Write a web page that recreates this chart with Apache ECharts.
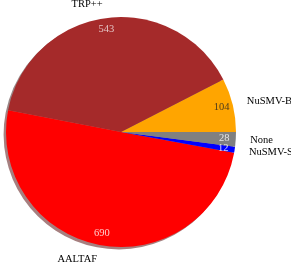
<!DOCTYPE html>
<html>
<head>
<meta charset="utf-8">
<script src="https://cdn.jsdelivr.net/npm/echarts@6/dist/echarts.min.js"></script>
<style>html,body{margin:0;padding:0;background:#fff;}#c{width:291px;height:262px;}</style>
</head>
<body>
<div id="c"></div>
<script>
var categories = ['NuSMV-B', 'TRP++', 'AALTAF', 'NuSMV-S', 'None'];
var values = [104, 543, 690, 12, 28];

var colors = ['#ffa500', '#a52a2a', '#ff0000', '#0000ff', '#808080'];
var valueLabelColors = ['#222', '#f4e8e8', '#ffffff', '#ffffff', '#ffffff'];

var CX = 121, CY = 132, R = 115;
var FONT = '"Liberation Serif", "DejaVu Serif", serif';
var FS = 10.5;

function shade(hex) {
  var r = parseInt(hex.substr(1,2),16), g = parseInt(hex.substr(3,2),16), b = parseInt(hex.substr(5,2),16);
  return 'rgba(' + Math.round(r*0.3) + ',' + Math.round(g*0.3) + ',' + Math.round(b*0.3) + ',0.5)';
}

var total = values.reduce(function(a,b){return a+b;},0);
var cum = 0;
var mids = values.map(function(v){ var m = cum + v/2; cum += v; return m; });
var leftSide = mids.map(function(m){ return Math.cos(m / total * 2 * Math.PI) < 0; });

var baseData = categories.map(function(c,i){ return {name:c, value:values[i], itemStyle:{color:colors[i]}}; });

var option = {
  animation: false,
  polar: {center: [CX, CY], radius: R},
  angleAxis: {type: 'value', min: 0, max: total, startAngle: 0, clockwise: false, show: false},
  radiusAxis: {type: 'value', min: 0, max: 1, show: false},
  series: [
    {
      type: 'pie', silent: true, startAngle: 0, clockwise: false,
      center: [CX - 2.4, CY + 2.4], radius: [0, R],
      label: {show: false}, labelLine: {show: false},
      data: categories.map(function(c,i){ return {name:c, value:values[i], itemStyle:{color:shade(colors[i])}}; })
    },
    {
      type: 'pie', silent: true, startAngle: 0, clockwise: false,
      center: [CX, CY], radius: [0, R],
      label: {show: false}, labelLine: {show: false},
      itemStyle: {borderWidth: 0},
      data: baseData
    },
    {
      type: 'scatter', coordinateSystem: 'polar', silent: true, symbolSize: 0, z: 5,
      data: categories.map(function(c,i){ return {name:c, value:[0.9, mids[i]],
        label: {show: true, position: 'inside', formatter: String(values[i]),
          color: valueLabelColors[i], fontFamily: FONT, fontSize: FS}}; })
    },
    {
      type: 'pie', silent: true, startAngle: 0, clockwise: false, avoidLabelOverlap: false,
      center: [CX, CY], radius: [R*1.1 - 1, R*1.1 + 1],
      itemStyle: {color: 'rgba(0,0,0,0)'},
      labelLine: {show: false},
      data: categories.map(function(c,i){ return {name:c, value:values[i],
        label: {show: true, position: 'inside', rotate: 0,
          formatter: leftSide[i] ? '{r|' + c + '}{e|' + c + '}' : '{e|' + c + '}{l|' + c + '}',
          rich: {
            r: {fontFamily: FONT, fontSize: FS, color: '#000'},
            l: {fontFamily: FONT, fontSize: FS, color: '#000'},
            e: {fontFamily: FONT, fontSize: FS, color: 'rgba(0,0,0,0)'}
          }}}; })
    }
  ]
};
var chart = echarts.init(document.getElementById('c'), null, {renderer: 'canvas'});
chart.setOption(option);
</script>
</body>
</html>
